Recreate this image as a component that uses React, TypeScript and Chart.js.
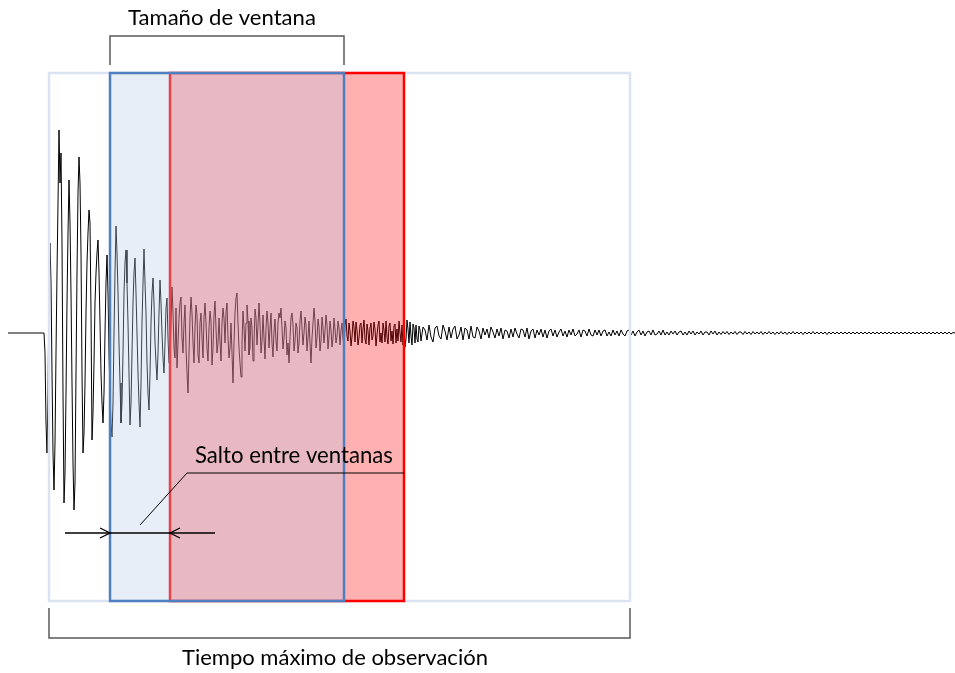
import React, { useEffect, useRef } from "react";
import { Chart, registerables } from "chart.js";

Chart.register(...registerables);

// ---- Axes (drawing units, 0..955 in time) ----
const timeRange = [0, 955];
const ampRange = [-340, 333];

// Quiet pre-event trace
const preEventTimes = [8, 43];
// Strong-motion part, one sample per time unit starting at t = 44
const strongStart = 44;
const strongStep = 1;
const strongMotion = [
  0, -20, -90, -120, -60, 40, 90, 50, -40, -120,
  -157, -110, -20, 60, 130, 203, 150, 180, 90, -60,
  -170, -140, -60, 30, 100, 153, 110, 40, -50, -130,
  -177, -150, -40, 60, 140, 176,
  150, 80, -40, -120, -100, -50, 20, 70, 100, 123,
  110, 20, -107, -80, -30, 30, 60, 80, 93, 60,
  10, -40, -70, -90, -60, 0, 50, 78, 40, -20,
  -60, -90, -104, -70, 0, 60, 107, 80, 40, -10,
  -50, -90, -70, -20, 40, 70, 83, 50, 10, -40,
  -92, -70, -20, 30, 60, 75, 40, 0, -40, -70,
  -94, -50, 10, 50, 84, 50, 20, -30, -60, -77,
  -40, 10, 40, 55, 30, -10, -30, -47, -20, 20,
  53, 30, 0, -25, -40, -10, 25, 35, -5, -30,
  // t = 170
  -30, 10, 46, 20, -15, -25, 25, -35, -10, 15,
  30, 36, -5, -20, 10, 28, -15, -40, -60, -20,
  15, 36, 20, -10, -30, 5, 28, 18, -22, -30,
  10, 20, -5, -25, 15, 30, 10, -15, -28, 5,
  22, 12, -32, -15, 18, 32, 5, -20, -10, 15,
  -8, -28, 10, 25, 15, -10, 20, 30, -5, -25,
  -15, 10, -20, -50, -10, 20, 35, 40, 10, -15,
  -30, -44, -10, 22, 5, -18, 10, 28, 12, -22,
  -15, 15, 5, -28, -10, 24, 15, -12, 8, 30,
  10, -20, -8, 18, -5, -26, 5, 22, 10, -15,
  5, 20, -10, -24, 2, 14, -8, -18, 10, 20,
  15, 25, 5, -16, -5, 12, 5, -22, -10, -30,
  -5, 15, 20, 8, -18, -8, 10, 5, -20, -10,
  12, 22, 5, -12, 0, 16, 8, -18, -5, 12,
  -10, -30, -5, 10, 25, 12, -15, -5, 14, 6,
  -18, -8, 16, 5, -10, 2, 18, 8, -16, -4,
  12, 3, -14, -5, 15, 4, -10, -3, 12, 5,
  -12, 2, 10, -6,
  // t = 344
  -12, 8, 14, -3, -8, 10, 2, -13, -4, 12,
  6, -9, 11, 3, -12, -5, 8, 10, -10, 4,
  13, -6, -11, 9, 2, -12, 5, 10, -7, -3,
  11, 4, -13, -2, 8, 12, -9, 0, -10, 10,
  3, -9, 12, -4, -11, 7, 10, -8, 2, -11,
  7, 9, -10, 4, -8, 12, 0, -9, 8, -12,
  12, -14, -6, 13, 4, -10, 11, -3, -12, 9,
  5, -10, 8, -6, -9, 7, 3,
];
// Coda, sampled every 2 units starting at t = 421
const codaStart = 421;
const codaStep = 2;
const coda = [
  -8, 6, 3, -7, 8, -4, -9, 5, 7, -3, -6, 8, 2, -7, 6, -5, 4, 7, -6, -2, 6, -7, 5, 3, -6, 7, -4, -5, 6, 2,
  -6, 5, -2, 4, -5, 6, 1, -5, 4, -3, 5, -6, 3, 2, -5, 4, -4, 5, -1, -5, 4, 3, -4, 5, -6, 2, 4, -5, 3, -2,
  4, -4, 3, -5, 2, 4, -3, 3, -4, 1, 4, -3, 2, -4, 3, -2, 4, -3, -1, 3, -4, 3, 2, -3, 4, -2, -3, 3, -2, 3,
  -3, 2, 3, -3, 1, -3, 3, -2, 2, -3, 3, -1, -3, 2, 3, -2, 2, -3, 1, 3, -2, 2, -3, 1, 2, -2, 3, -2, -1, 2,
  -2, 3, -2, 1, -2, 2, -1, 2, -2, 1, 2, -2, 1, -2, 2, -1, 2, -2, 1, -1, 2, -2, 1, 1, -2, 2, -1, 2, -2, 1,
  -1.5, 1.5, -1, 1.5, -1.5, 1, -1, 1.5, -1.5, 1, 1, -1.5, 1.5, -1, 1, -1.5, 1.5, -1, 1, -1, 1.5, -1.5, 1, -1, 1.5, -1, 1, -1.5, 1, -1,
  1.5, -1, 1, -1.5, 1, -1, 1.5, -1, 1, -1, 1, -1.5, 1, -1, 1, -1, 1.5, -1, 1, -1, 1, -1, 1, -1.5, 1, -1, 1, -1, 1, -1,
  1, -1, 1, -1, 1, -1, 1, -1, 1, -1, 1, -1, 1, -1, 1, -1, 1, -1, 1, -1, 1, -1, 1, -1, 1, -1, 1, -1, 1, -1,
  1, -1, 1, -1, 1, -1, 1, -1, 1, -1, 1, -1, 1, -1, 1, -1, 1, -1, 1, -1, 1, -1, 1, -1, 1, -1, 0.5, 0,
];

// ---- Windows ----
const observationTime = [49, 630];
const windowStarts = [110, 170];
const windowLength = 234;
const boxAmp = [260, -268];

// ---- Labels ----
const labelWindowSize = "Tamaño de ventana";
const labelHop = "Salto entre ventanas";
const labelTotal = "Tiempo máximo de observación";

const FONT = "Lato, 'Open Sans', sans-serif";

function buildTrace() {
  const pts: { x: number; y: number }[] = [];
  preEventTimes.forEach((t) => pts.push({ x: t, y: 0 }));
  strongMotion.forEach((v, i) => pts.push({ x: strongStart + i * strongStep, y: v }));
  coda.forEach((v, i) => pts.push({ x: codaStart + i * codaStep, y: v }));
  return pts;
}

const diagramPlugin = {
  id: "diagram",
  afterDatasetsDraw(chart: any) {
    const { ctx, scales } = chart;
    const X = (v: number) => scales.x.getPixelForValue(v);
    const Y = (v: number) => scales.y.getPixelForValue(v);
    ctx.save();

    const rect = (t0: number, t1: number): [number, number, number, number] => {
      const x0 = X(t0), x1 = X(t1), y0 = Y(boxAmp[0]), y1 = Y(boxAmp[1]);
      return [x0, y0, x1 - x0, y1 - y0];
    };

    // Observation box
    ctx.lineWidth = 2.5;
    ctx.strokeStyle = "#dae3f3";
    ctx.strokeRect(...rect(observationTime[0], observationTime[1]));

    // Second (red) window
    const r2 = rect(windowStarts[1], windowStarts[1] + windowLength);
    ctx.fillStyle = "rgba(255,0,0,0.31)";
    ctx.fillRect(...r2);
    ctx.strokeStyle = "#ff0000";
    ctx.lineWidth = 2.5;
    ctx.strokeRect(...r2);

    // First (blue) window
    const r1 = rect(windowStarts[0], windowStarts[0] + windowLength);
    ctx.fillStyle = "rgba(183,202,230,0.32)";
    ctx.fillRect(...r1);
    ctx.strokeStyle = "#4f7fc0";
    ctx.lineWidth = 2.5;
    ctx.strokeRect(...r1);

    // Brackets
    ctx.strokeStyle = "#595959";
    ctx.lineWidth = 1.5;
    ctx.beginPath();
    ctx.moveTo(X(windowStarts[0]), Y(268));
    ctx.lineTo(X(windowStarts[0]), Y(297));
    ctx.lineTo(X(windowStarts[0] + windowLength), Y(297));
    ctx.lineTo(X(windowStarts[0] + windowLength), Y(268));
    ctx.stroke();

    ctx.beginPath();
    ctx.moveTo(X(observationTime[0]), Y(-275));
    ctx.lineTo(X(observationTime[0]), Y(-305));
    ctx.lineTo(X(observationTime[1]), Y(-305));
    ctx.lineTo(X(observationTime[1]), Y(-275));
    ctx.stroke();

    // Hop annotation: leader line
    ctx.strokeStyle = "#000";
    ctx.lineWidth = 1;
    ctx.beginPath();
    ctx.moveTo(X(windowStarts[1] + windowLength), Y(-140));
    ctx.lineTo(X(187), Y(-140));
    ctx.lineTo(X(140), Y(-192));
    ctx.stroke();

    // Hop arrows
    ctx.lineWidth = 1.3;
    ctx.beginPath();
    ctx.moveTo(X(65), Y(-200));
    ctx.lineTo(X(215), Y(-200));
    ctx.stroke();
    const head = (tip: number, dir: number) => {
      ctx.beginPath();
      ctx.moveTo(X(tip) - dir * 10, Y(-200) - 5);
      ctx.lineTo(X(tip), Y(-200));
      ctx.lineTo(X(tip) - dir * 10, Y(-200) + 5);
      ctx.stroke();
    };
    head(windowStarts[0], 1);
    head(windowStarts[1], -1);

    // Texts, sized to span their measured extents
    const fitText = (text: string, t0: number, t1: number, amp: number) => {
      ctx.font = `20px ${FONT}`;
      const w = ctx.measureText(text).width;
      const size = (20 * (X(t1) - X(t0))) / w;
      ctx.font = `${size}px ${FONT}`;
      ctx.fillStyle = "#000";
      ctx.textAlign = "left";
      ctx.textBaseline = "alphabetic";
      ctx.fillText(text, X(t0), Y(amp));
    };
    fitText(labelWindowSize, 128, 316, 308);
    fitText(labelHop, 195, 393, -130);
    fitText(labelTotal, 182, 488, -332);

    ctx.restore();
  },
};

export default function App() {
  const ref = useRef<HTMLCanvasElement>(null);
  useEffect(() => {
    if (!ref.current) return;
    const chart = new Chart(ref.current, {
      type: "line",
      data: {
        datasets: [
          {
            data: buildTrace(),
            borderColor: "#000",
            borderWidth: 1,
            pointRadius: 0,
            tension: 0,
            fill: false,
          },
        ],
      },
      options: {
        animation: false,
        responsive: false,
        layout: { padding: 0 },
        plugins: { legend: { display: false }, tooltip: { enabled: false } },
        scales: {
          x: { type: "linear", display: false, min: timeRange[0], max: timeRange[1] },
          y: { type: "linear", display: false, min: ampRange[0], max: ampRange[1] },
        },
      },
      plugins: [diagramPlugin],
    });
    return () => chart.destroy();
  }, []);
  return (
    <canvas
      ref={ref}
      width={955}
      height={673}
      style={{ position: "absolute", left: 0, top: 0, display: "block" }}
    />
  );
}
